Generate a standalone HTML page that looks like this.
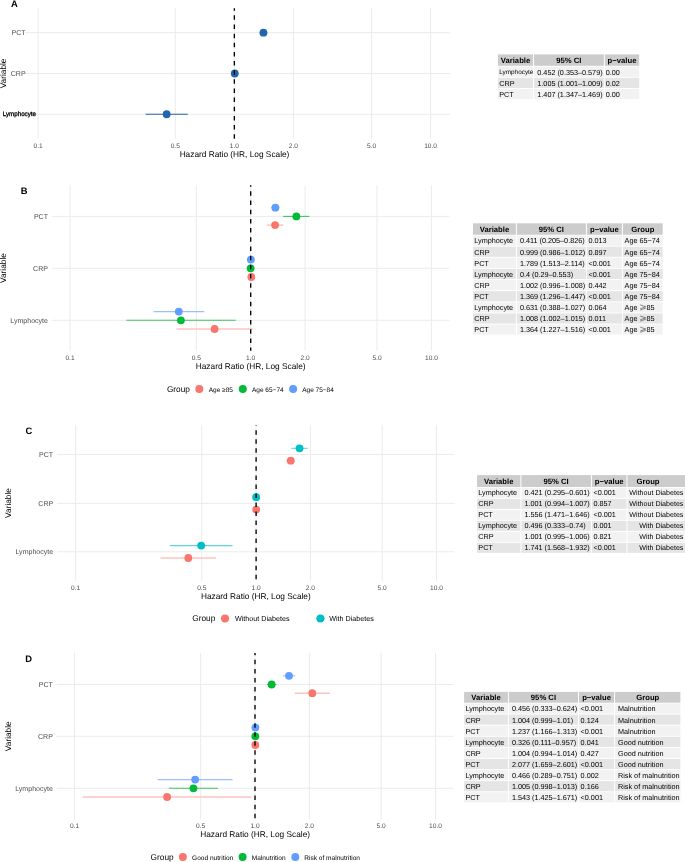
<!DOCTYPE html>
<html><head><meta charset="utf-8"><style>
html,body{margin:0;padding:0;background:#fff;width:685px;height:862px;overflow:hidden}
svg{display:block}
text{}
text{text-rendering:geometricPrecision;font-family:"Liberation Sans", sans-serif}
</style></head><body>
<svg width="685" height="862" viewBox="0 0 685 862">
<rect width="685" height="862" fill="#fff"/>
<g><line x1="38.10" y1="8.2" x2="38.10" y2="138.7" stroke="#EBEBEB" stroke-width="1"/>
<line x1="175.27" y1="8.2" x2="175.27" y2="138.7" stroke="#EBEBEB" stroke-width="1"/>
<line x1="234.35" y1="8.2" x2="234.35" y2="138.7" stroke="#EBEBEB" stroke-width="1"/>
<line x1="293.43" y1="8.2" x2="293.43" y2="138.7" stroke="#EBEBEB" stroke-width="1"/>
<line x1="371.52" y1="8.2" x2="371.52" y2="138.7" stroke="#EBEBEB" stroke-width="1"/>
<line x1="430.60" y1="8.2" x2="430.60" y2="138.7" stroke="#EBEBEB" stroke-width="1"/>
<line x1="25" y1="32.7" x2="450" y2="32.7" stroke="#EBEBEB" stroke-width="1"/>
<line x1="25" y1="73.5" x2="450" y2="73.5" stroke="#EBEBEB" stroke-width="1"/>
<line x1="25" y1="114.25" x2="450" y2="114.25" stroke="#EBEBEB" stroke-width="1"/>
<line x1="145.60" y1="114.25" x2="187.78" y2="114.25" stroke="#2166AC" stroke-width="1.1"/>
<line x1="234.44" y1="73.50" x2="235.11" y2="73.50" stroke="#2166AC" stroke-width="1.1"/>
<line x1="259.74" y1="32.70" x2="267.13" y2="32.70" stroke="#2166AC" stroke-width="1.1"/>
<circle cx="166.67" cy="114.25" r="3.9" fill="#2166AC"/>
<circle cx="234.78" cy="73.50" r="3.9" fill="#2166AC"/>
<circle cx="263.45" cy="32.70" r="3.9" fill="#2166AC"/>
<line x1="234.35" y1="8.2" x2="234.35" y2="138.7" stroke="#000" stroke-width="1.35" stroke-dasharray="4.5 4.64" stroke-dashoffset="1.99"/>
<line x1="70.00" y1="185.3" x2="70.00" y2="350.8" stroke="#EBEBEB" stroke-width="1"/>
<line x1="196.30" y1="185.3" x2="196.30" y2="350.8" stroke="#EBEBEB" stroke-width="1"/>
<line x1="250.70" y1="185.3" x2="250.70" y2="350.8" stroke="#EBEBEB" stroke-width="1"/>
<line x1="305.10" y1="185.3" x2="305.10" y2="350.8" stroke="#EBEBEB" stroke-width="1"/>
<line x1="377.00" y1="185.3" x2="377.00" y2="350.8" stroke="#EBEBEB" stroke-width="1"/>
<line x1="431.40" y1="185.3" x2="431.40" y2="350.8" stroke="#EBEBEB" stroke-width="1"/>
<line x1="52" y1="216.4" x2="449.3" y2="216.4" stroke="#EBEBEB" stroke-width="1"/>
<line x1="52" y1="268.3" x2="449.3" y2="268.3" stroke="#EBEBEB" stroke-width="1"/>
<line x1="52" y1="320.3" x2="449.3" y2="320.3" stroke="#EBEBEB" stroke-width="1"/>
<line x1="176.40" y1="329.00" x2="252.79" y2="329.00" stroke="#FCC3BF" stroke-width="1.5"/>
<line x1="250.86" y1="277.00" x2="251.87" y2="277.00" stroke="#FCC3BF" stroke-width="1.5"/>
<line x1="266.75" y1="225.10" x2="283.35" y2="225.10" stroke="#FCC3BF" stroke-width="1.5"/>
<circle cx="214.57" cy="329.00" r="3.9" fill="#F8766D"/>
<circle cx="251.33" cy="277.00" r="3.9" fill="#F8766D"/>
<circle cx="275.06" cy="225.10" r="3.9" fill="#F8766D"/>
<line x1="126.33" y1="320.30" x2="235.70" y2="320.30" stroke="#3DC462" stroke-width="1.1"/>
<line x1="249.59" y1="268.30" x2="251.64" y2="268.30" stroke="#3DC462" stroke-width="1.1"/>
<line x1="283.20" y1="216.40" x2="309.45" y2="216.40" stroke="#3DC462" stroke-width="1.1"/>
<circle cx="180.92" cy="320.30" r="3.9" fill="#00BA38"/>
<circle cx="250.62" cy="268.30" r="3.9" fill="#00BA38"/>
<circle cx="296.35" cy="216.40" r="3.9" fill="#00BA38"/>
<line x1="153.56" y1="311.60" x2="204.21" y2="311.60" stroke="#9DBFFF" stroke-width="1.1"/>
<line x1="250.39" y1="259.60" x2="251.33" y2="259.60" stroke="#9DBFFF" stroke-width="1.1"/>
<line x1="271.05" y1="207.70" x2="279.70" y2="207.70" stroke="#9DBFFF" stroke-width="1.1"/>
<circle cx="178.79" cy="311.60" r="3.9" fill="#619CFF"/>
<circle cx="250.86" cy="259.60" r="3.9" fill="#619CFF"/>
<circle cx="275.35" cy="207.70" r="3.9" fill="#619CFF"/>
<line x1="250.70" y1="185.3" x2="250.70" y2="350.8" stroke="#000" stroke-width="1.35" stroke-dasharray="4.5 4.69" stroke-dashoffset="3.14"/>
<line x1="75.70" y1="425.2" x2="75.70" y2="580.8" stroke="#EBEBEB" stroke-width="1"/>
<line x1="201.79" y1="425.2" x2="201.79" y2="580.8" stroke="#EBEBEB" stroke-width="1"/>
<line x1="256.10" y1="425.2" x2="256.10" y2="580.8" stroke="#EBEBEB" stroke-width="1"/>
<line x1="310.41" y1="425.2" x2="310.41" y2="580.8" stroke="#EBEBEB" stroke-width="1"/>
<line x1="382.19" y1="425.2" x2="382.19" y2="580.8" stroke="#EBEBEB" stroke-width="1"/>
<line x1="436.50" y1="425.2" x2="436.50" y2="580.8" stroke="#EBEBEB" stroke-width="1"/>
<line x1="57.2" y1="454.5" x2="454.5" y2="454.5" stroke="#EBEBEB" stroke-width="1"/>
<line x1="57.2" y1="503.4" x2="454.5" y2="503.4" stroke="#EBEBEB" stroke-width="1"/>
<line x1="57.2" y1="551.8" x2="454.5" y2="551.8" stroke="#EBEBEB" stroke-width="1"/>
<line x1="160.46" y1="558.00" x2="216.21" y2="558.00" stroke="#FCC3BF" stroke-width="1.5"/>
<line x1="255.63" y1="509.60" x2="256.65" y2="509.60" stroke="#FCC3BF" stroke-width="1.5"/>
<line x1="286.34" y1="460.70" x2="295.14" y2="460.70" stroke="#FCC3BF" stroke-width="1.5"/>
<circle cx="188.32" cy="558.00" r="3.9" fill="#F8766D"/>
<circle cx="256.18" cy="509.60" r="3.9" fill="#F8766D"/>
<circle cx="290.74" cy="460.70" r="3.9" fill="#F8766D"/>
<line x1="169.95" y1="545.60" x2="232.51" y2="545.60" stroke="#5DD5D8" stroke-width="1.1"/>
<line x1="255.71" y1="497.20" x2="256.57" y2="497.20" stroke="#5DD5D8" stroke-width="1.1"/>
<line x1="291.34" y1="448.30" x2="307.70" y2="448.30" stroke="#5DD5D8" stroke-width="1.1"/>
<circle cx="201.16" cy="545.60" r="3.9" fill="#00BFC4"/>
<circle cx="256.18" cy="497.20" r="3.9" fill="#00BFC4"/>
<circle cx="299.54" cy="448.30" r="3.9" fill="#00BFC4"/>
<line x1="256.10" y1="425.2" x2="256.10" y2="580.8" stroke="#000" stroke-width="1.35" stroke-dasharray="4.5 4.53" stroke-dashoffset="3.98"/>
<line x1="74.50" y1="652.9" x2="74.50" y2="819.6" stroke="#EBEBEB" stroke-width="1"/>
<line x1="200.66" y1="652.9" x2="200.66" y2="819.6" stroke="#EBEBEB" stroke-width="1"/>
<line x1="255.00" y1="652.9" x2="255.00" y2="819.6" stroke="#EBEBEB" stroke-width="1"/>
<line x1="309.34" y1="652.9" x2="309.34" y2="819.6" stroke="#EBEBEB" stroke-width="1"/>
<line x1="381.16" y1="652.9" x2="381.16" y2="819.6" stroke="#EBEBEB" stroke-width="1"/>
<line x1="435.50" y1="652.9" x2="435.50" y2="819.6" stroke="#EBEBEB" stroke-width="1"/>
<line x1="56.6" y1="684.5" x2="453.7" y2="684.5" stroke="#EBEBEB" stroke-width="1"/>
<line x1="56.6" y1="736.3" x2="453.7" y2="736.3" stroke="#EBEBEB" stroke-width="1"/>
<line x1="56.6" y1="788.3" x2="453.7" y2="788.3" stroke="#EBEBEB" stroke-width="1"/>
<line x1="82.68" y1="797.00" x2="251.55" y2="797.00" stroke="#FCC3BF" stroke-width="1.5"/>
<line x1="254.53" y1="745.00" x2="256.09" y2="745.00" stroke="#FCC3BF" stroke-width="1.5"/>
<line x1="294.68" y1="693.20" x2="329.93" y2="693.20" stroke="#FCC3BF" stroke-width="1.5"/>
<circle cx="167.14" cy="797.00" r="3.9" fill="#F8766D"/>
<circle cx="255.31" cy="745.00" r="3.9" fill="#F8766D"/>
<circle cx="312.30" cy="693.20" r="3.9" fill="#F8766D"/>
<line x1="168.80" y1="788.30" x2="218.03" y2="788.30" stroke="#3DC462" stroke-width="1.1"/>
<line x1="254.92" y1="736.30" x2="255.78" y2="736.30" stroke="#3DC462" stroke-width="1.1"/>
<line x1="267.04" y1="684.50" x2="276.35" y2="684.50" stroke="#3DC462" stroke-width="1.1"/>
<circle cx="193.44" cy="788.30" r="3.9" fill="#00BA38"/>
<circle cx="255.31" cy="736.30" r="3.9" fill="#00BA38"/>
<circle cx="271.67" cy="684.50" r="3.9" fill="#00BA38"/>
<line x1="157.69" y1="779.60" x2="232.55" y2="779.60" stroke="#9DBFFF" stroke-width="1.1"/>
<line x1="254.84" y1="727.60" x2="256.01" y2="727.60" stroke="#9DBFFF" stroke-width="1.1"/>
<line x1="282.76" y1="675.80" x2="295.25" y2="675.80" stroke="#9DBFFF" stroke-width="1.1"/>
<circle cx="195.14" cy="779.60" r="3.9" fill="#619CFF"/>
<circle cx="255.39" cy="727.60" r="3.9" fill="#619CFF"/>
<circle cx="289.00" cy="675.80" r="3.9" fill="#619CFF"/>
<line x1="255.00" y1="652.9" x2="255.00" y2="819.6" stroke="#000" stroke-width="1.35" stroke-dasharray="4.5 4.55" stroke-dashoffset="2.10"/>
<circle cx="199.3" cy="389.0" r="4.0" fill="#F8766D"/>
<circle cx="242.8" cy="389.0" r="4.0" fill="#00BA38"/>
<circle cx="293.1" cy="389.0" r="4.0" fill="#619CFF"/>
<line x1="220.40" y1="618.5" x2="229.60" y2="618.5" stroke="#FCC3BF" stroke-width="1.1"/>
<circle cx="225.0" cy="618.5" r="4.0" fill="#F8766D"/>
<line x1="315.80" y1="618.5" x2="325.00" y2="618.5" stroke="#5DD5D8" stroke-width="1.1"/>
<circle cx="320.4" cy="618.5" r="4.0" fill="#00BFC4"/>
<circle cx="182.9" cy="857.1" r="4.0" fill="#F8766D"/>
<circle cx="242.6" cy="857.1" r="4.0" fill="#00BA38"/>
<circle cx="295.3" cy="857.1" r="4.0" fill="#619CFF"/>
<rect x="498.00" y="54.40" width="35.00" height="11.40" fill="#CCCCCC"/>
<rect x="534.00" y="54.40" width="69.85" height="11.40" fill="#CCCCCC"/>
<rect x="604.85" y="54.40" width="34.35" height="11.40" fill="#CCCCCC"/>
<rect x="498.00" y="66.60" width="35.00" height="10.20" fill="#F2F2F2"/>
<rect x="534.00" y="66.60" width="69.85" height="10.20" fill="#F2F2F2"/>
<rect x="604.85" y="66.60" width="34.35" height="10.20" fill="#F2F2F2"/>
<rect x="498.00" y="77.75" width="35.00" height="10.20" fill="#E5E5E5"/>
<rect x="534.00" y="77.75" width="69.85" height="10.20" fill="#E5E5E5"/>
<rect x="604.85" y="77.75" width="34.35" height="10.20" fill="#E5E5E5"/>
<rect x="498.00" y="88.90" width="35.00" height="10.20" fill="#F2F2F2"/>
<rect x="534.00" y="88.90" width="69.85" height="10.20" fill="#F2F2F2"/>
<rect x="604.85" y="88.90" width="34.35" height="10.20" fill="#F2F2F2"/>
<rect x="473.00" y="223.30" width="42.90" height="11.45" fill="#CCCCCC"/>
<rect x="516.90" y="223.30" width="69.00" height="11.45" fill="#CCCCCC"/>
<rect x="586.90" y="223.30" width="35.00" height="11.45" fill="#CCCCCC"/>
<rect x="622.90" y="223.30" width="39.80" height="11.45" fill="#CCCCCC"/>
<rect x="473.00" y="235.55" width="42.90" height="10.17" fill="#F2F2F2"/>
<rect x="516.90" y="235.55" width="69.00" height="10.17" fill="#F2F2F2"/>
<rect x="586.90" y="235.55" width="35.00" height="10.17" fill="#F2F2F2"/>
<rect x="622.90" y="235.55" width="39.80" height="10.17" fill="#F2F2F2"/>
<rect x="473.00" y="246.67" width="42.90" height="10.17" fill="#E5E5E5"/>
<rect x="516.90" y="246.67" width="69.00" height="10.17" fill="#E5E5E5"/>
<rect x="586.90" y="246.67" width="35.00" height="10.17" fill="#E5E5E5"/>
<rect x="622.90" y="246.67" width="39.80" height="10.17" fill="#E5E5E5"/>
<rect x="473.00" y="257.79" width="42.90" height="10.17" fill="#F2F2F2"/>
<rect x="516.90" y="257.79" width="69.00" height="10.17" fill="#F2F2F2"/>
<rect x="586.90" y="257.79" width="35.00" height="10.17" fill="#F2F2F2"/>
<rect x="622.90" y="257.79" width="39.80" height="10.17" fill="#F2F2F2"/>
<rect x="473.00" y="268.91" width="42.90" height="10.17" fill="#E5E5E5"/>
<rect x="516.90" y="268.91" width="69.00" height="10.17" fill="#E5E5E5"/>
<rect x="586.90" y="268.91" width="35.00" height="10.17" fill="#E5E5E5"/>
<rect x="622.90" y="268.91" width="39.80" height="10.17" fill="#E5E5E5"/>
<rect x="473.00" y="280.03" width="42.90" height="10.17" fill="#F2F2F2"/>
<rect x="516.90" y="280.03" width="69.00" height="10.17" fill="#F2F2F2"/>
<rect x="586.90" y="280.03" width="35.00" height="10.17" fill="#F2F2F2"/>
<rect x="622.90" y="280.03" width="39.80" height="10.17" fill="#F2F2F2"/>
<rect x="473.00" y="291.15" width="42.90" height="10.17" fill="#E5E5E5"/>
<rect x="516.90" y="291.15" width="69.00" height="10.17" fill="#E5E5E5"/>
<rect x="586.90" y="291.15" width="35.00" height="10.17" fill="#E5E5E5"/>
<rect x="622.90" y="291.15" width="39.80" height="10.17" fill="#E5E5E5"/>
<rect x="473.00" y="302.27" width="42.90" height="10.17" fill="#F2F2F2"/>
<rect x="516.90" y="302.27" width="69.00" height="10.17" fill="#F2F2F2"/>
<rect x="586.90" y="302.27" width="35.00" height="10.17" fill="#F2F2F2"/>
<rect x="622.90" y="302.27" width="39.80" height="10.17" fill="#F2F2F2"/>
<path d="M640.20,304.91 L645.80,306.81 L640.20,308.71 M645.80,308.11 L640.20,310.01" fill="none" stroke="#444" stroke-width="0.62"/>
<rect x="473.00" y="313.39" width="42.90" height="10.17" fill="#E5E5E5"/>
<rect x="516.90" y="313.39" width="69.00" height="10.17" fill="#E5E5E5"/>
<rect x="586.90" y="313.39" width="35.00" height="10.17" fill="#E5E5E5"/>
<rect x="622.90" y="313.39" width="39.80" height="10.17" fill="#E5E5E5"/>
<path d="M640.20,316.03 L645.80,317.93 L640.20,319.83 M645.80,319.23 L640.20,321.13" fill="none" stroke="#444" stroke-width="0.62"/>
<rect x="473.00" y="324.51" width="42.90" height="10.17" fill="#F2F2F2"/>
<rect x="516.90" y="324.51" width="69.00" height="10.17" fill="#F2F2F2"/>
<rect x="586.90" y="324.51" width="35.00" height="10.17" fill="#F2F2F2"/>
<rect x="622.90" y="324.51" width="39.80" height="10.17" fill="#F2F2F2"/>
<path d="M640.20,327.15 L645.80,329.05 L640.20,330.95 M645.80,330.35 L640.20,332.25" fill="none" stroke="#444" stroke-width="0.62"/>
<rect x="477.00" y="475.10" width="43.40" height="11.90" fill="#CCCCCC"/>
<rect x="521.40" y="475.10" width="69.50" height="11.90" fill="#CCCCCC"/>
<rect x="591.90" y="475.10" width="34.60" height="11.90" fill="#CCCCCC"/>
<rect x="627.50" y="475.10" width="57.50" height="11.90" fill="#CCCCCC"/>
<rect x="477.00" y="487.80" width="43.40" height="10.05" fill="#F2F2F2"/>
<rect x="521.40" y="487.80" width="69.50" height="10.05" fill="#F2F2F2"/>
<rect x="591.90" y="487.80" width="34.60" height="10.05" fill="#F2F2F2"/>
<rect x="627.50" y="487.80" width="57.50" height="10.05" fill="#F2F2F2"/>
<rect x="477.00" y="498.80" width="43.40" height="10.05" fill="#E5E5E5"/>
<rect x="521.40" y="498.80" width="69.50" height="10.05" fill="#E5E5E5"/>
<rect x="591.90" y="498.80" width="34.60" height="10.05" fill="#E5E5E5"/>
<rect x="627.50" y="498.80" width="57.50" height="10.05" fill="#E5E5E5"/>
<rect x="477.00" y="509.80" width="43.40" height="10.05" fill="#F2F2F2"/>
<rect x="521.40" y="509.80" width="69.50" height="10.05" fill="#F2F2F2"/>
<rect x="591.90" y="509.80" width="34.60" height="10.05" fill="#F2F2F2"/>
<rect x="627.50" y="509.80" width="57.50" height="10.05" fill="#F2F2F2"/>
<rect x="477.00" y="520.80" width="43.40" height="10.05" fill="#E5E5E5"/>
<rect x="521.40" y="520.80" width="69.50" height="10.05" fill="#E5E5E5"/>
<rect x="591.90" y="520.80" width="34.60" height="10.05" fill="#E5E5E5"/>
<rect x="627.50" y="520.80" width="57.50" height="10.05" fill="#E5E5E5"/>
<rect x="477.00" y="531.80" width="43.40" height="10.05" fill="#F2F2F2"/>
<rect x="521.40" y="531.80" width="69.50" height="10.05" fill="#F2F2F2"/>
<rect x="591.90" y="531.80" width="34.60" height="10.05" fill="#F2F2F2"/>
<rect x="627.50" y="531.80" width="57.50" height="10.05" fill="#F2F2F2"/>
<rect x="477.00" y="542.80" width="43.40" height="10.05" fill="#E5E5E5"/>
<rect x="521.40" y="542.80" width="69.50" height="10.05" fill="#E5E5E5"/>
<rect x="591.90" y="542.80" width="34.60" height="10.05" fill="#E5E5E5"/>
<rect x="627.50" y="542.80" width="57.50" height="10.05" fill="#E5E5E5"/>
<rect x="464.10" y="691.90" width="43.80" height="10.80" fill="#CCCCCC"/>
<rect x="508.90" y="691.90" width="69.10" height="10.80" fill="#CCCCCC"/>
<rect x="579.00" y="691.90" width="35.10" height="10.80" fill="#CCCCCC"/>
<rect x="615.10" y="691.90" width="65.30" height="10.80" fill="#CCCCCC"/>
<rect x="464.10" y="703.50" width="43.80" height="10.14" fill="#F2F2F2"/>
<rect x="508.90" y="703.50" width="69.10" height="10.14" fill="#F2F2F2"/>
<rect x="579.00" y="703.50" width="35.10" height="10.14" fill="#F2F2F2"/>
<rect x="615.10" y="703.50" width="65.30" height="10.14" fill="#F2F2F2"/>
<rect x="464.10" y="714.59" width="43.80" height="10.14" fill="#E5E5E5"/>
<rect x="508.90" y="714.59" width="69.10" height="10.14" fill="#E5E5E5"/>
<rect x="579.00" y="714.59" width="35.10" height="10.14" fill="#E5E5E5"/>
<rect x="615.10" y="714.59" width="65.30" height="10.14" fill="#E5E5E5"/>
<rect x="464.10" y="725.68" width="43.80" height="10.14" fill="#F2F2F2"/>
<rect x="508.90" y="725.68" width="69.10" height="10.14" fill="#F2F2F2"/>
<rect x="579.00" y="725.68" width="35.10" height="10.14" fill="#F2F2F2"/>
<rect x="615.10" y="725.68" width="65.30" height="10.14" fill="#F2F2F2"/>
<rect x="464.10" y="736.77" width="43.80" height="10.14" fill="#E5E5E5"/>
<rect x="508.90" y="736.77" width="69.10" height="10.14" fill="#E5E5E5"/>
<rect x="579.00" y="736.77" width="35.10" height="10.14" fill="#E5E5E5"/>
<rect x="615.10" y="736.77" width="65.30" height="10.14" fill="#E5E5E5"/>
<rect x="464.10" y="747.86" width="43.80" height="10.14" fill="#F2F2F2"/>
<rect x="508.90" y="747.86" width="69.10" height="10.14" fill="#F2F2F2"/>
<rect x="579.00" y="747.86" width="35.10" height="10.14" fill="#F2F2F2"/>
<rect x="615.10" y="747.86" width="65.30" height="10.14" fill="#F2F2F2"/>
<rect x="464.10" y="758.95" width="43.80" height="10.14" fill="#E5E5E5"/>
<rect x="508.90" y="758.95" width="69.10" height="10.14" fill="#E5E5E5"/>
<rect x="579.00" y="758.95" width="35.10" height="10.14" fill="#E5E5E5"/>
<rect x="615.10" y="758.95" width="65.30" height="10.14" fill="#E5E5E5"/>
<rect x="464.10" y="770.04" width="43.80" height="10.14" fill="#F2F2F2"/>
<rect x="508.90" y="770.04" width="69.10" height="10.14" fill="#F2F2F2"/>
<rect x="579.00" y="770.04" width="35.10" height="10.14" fill="#F2F2F2"/>
<rect x="615.10" y="770.04" width="65.30" height="10.14" fill="#F2F2F2"/>
<rect x="464.10" y="781.13" width="43.80" height="10.14" fill="#E5E5E5"/>
<rect x="508.90" y="781.13" width="69.10" height="10.14" fill="#E5E5E5"/>
<rect x="579.00" y="781.13" width="35.10" height="10.14" fill="#E5E5E5"/>
<rect x="615.10" y="781.13" width="65.30" height="10.14" fill="#E5E5E5"/>
<rect x="464.10" y="792.22" width="43.80" height="10.14" fill="#F2F2F2"/>
<rect x="508.90" y="792.22" width="69.10" height="10.14" fill="#F2F2F2"/>
<rect x="579.00" y="792.22" width="35.10" height="10.14" fill="#F2F2F2"/>
<rect x="615.10" y="792.22" width="65.30" height="10.14" fill="#F2F2F2"/></g>
<g style="will-change:transform"><text x="25.60" y="35.25" font-size="7.05" fill="#4D4D4D" text-anchor="end" font-weight="normal" >PCT</text>
<text x="25.60" y="76.05" font-size="7.05" fill="#4D4D4D" text-anchor="end" font-weight="normal" >CRP</text>
<text x="11.00" y="6.65" font-size="9.4" fill="#000" text-anchor="start" font-weight="bold" >A</text>
<text x="0" y="0" font-size="8.3" fill="#000" text-anchor="middle" transform="translate(6.20,73.45) rotate(-90)">Variable</text>
<text x="38.10" y="147.80" font-size="6.6" fill="#4D4D4D" text-anchor="middle" font-weight="normal" >0.1</text>
<text x="175.27" y="147.80" font-size="6.6" fill="#4D4D4D" text-anchor="middle" font-weight="normal" >0.5</text>
<text x="234.35" y="147.80" font-size="6.6" fill="#4D4D4D" text-anchor="middle" font-weight="normal" >1.0</text>
<text x="293.43" y="147.80" font-size="6.6" fill="#4D4D4D" text-anchor="middle" font-weight="normal" >2.0</text>
<text x="371.52" y="147.80" font-size="6.6" fill="#4D4D4D" text-anchor="middle" font-weight="normal" >5.0</text>
<text x="430.60" y="147.80" font-size="6.6" fill="#4D4D4D" text-anchor="middle" font-weight="normal" >10.0</text>
<text x="234.50" y="156.80" font-size="8.3" fill="#000" text-anchor="middle" font-weight="normal" >Hazard Ratio (HR, Log Scale)</text>
<text x="2.80" y="116.10" font-size="6.5" fill="#000" text-anchor="start" font-weight="normal" stroke="#000" stroke-width="0.3" textLength="33.2" lengthAdjust="spacingAndGlyphs">Lymphocyte</text>
<text x="48.00" y="218.95" font-size="7.05" fill="#4D4D4D" text-anchor="end" font-weight="normal" >PCT</text>
<text x="48.00" y="270.85" font-size="7.05" fill="#4D4D4D" text-anchor="end" font-weight="normal" >CRP</text>
<text x="48.00" y="322.85" font-size="7.05" fill="#4D4D4D" text-anchor="end" font-weight="normal" >Lymphocyte</text>
<text x="20.70" y="194.00" font-size="9.4" fill="#000" text-anchor="start" font-weight="bold" >B</text>
<text x="0" y="0" font-size="8.3" fill="#000" text-anchor="middle" transform="translate(6.30,268.05) rotate(-90)">Variable</text>
<text x="70.00" y="359.90" font-size="6.6" fill="#4D4D4D" text-anchor="middle" font-weight="normal" >0.1</text>
<text x="196.30" y="359.90" font-size="6.6" fill="#4D4D4D" text-anchor="middle" font-weight="normal" >0.5</text>
<text x="250.70" y="359.90" font-size="6.6" fill="#4D4D4D" text-anchor="middle" font-weight="normal" >1.0</text>
<text x="305.10" y="359.90" font-size="6.6" fill="#4D4D4D" text-anchor="middle" font-weight="normal" >2.0</text>
<text x="377.00" y="359.90" font-size="6.6" fill="#4D4D4D" text-anchor="middle" font-weight="normal" >5.0</text>
<text x="431.40" y="359.90" font-size="6.6" fill="#4D4D4D" text-anchor="middle" font-weight="normal" >10.0</text>
<text x="250.65" y="369.30" font-size="8.3" fill="#000" text-anchor="middle" font-weight="normal" >Hazard Ratio (HR, Log Scale)</text>
<text x="53.20" y="457.05" font-size="7.05" fill="#4D4D4D" text-anchor="end" font-weight="normal" >PCT</text>
<text x="53.20" y="505.95" font-size="7.05" fill="#4D4D4D" text-anchor="end" font-weight="normal" >CRP</text>
<text x="53.20" y="554.35" font-size="7.05" fill="#4D4D4D" text-anchor="end" font-weight="normal" >Lymphocyte</text>
<text x="25.60" y="434.40" font-size="9.4" fill="#000" text-anchor="start" font-weight="bold" >C</text>
<text x="0" y="0" font-size="8.3" fill="#000" text-anchor="middle" transform="translate(11.00,503.00) rotate(-90)">Variable</text>
<text x="75.70" y="589.60" font-size="6.6" fill="#4D4D4D" text-anchor="middle" font-weight="normal" >0.1</text>
<text x="201.79" y="589.60" font-size="6.6" fill="#4D4D4D" text-anchor="middle" font-weight="normal" >0.5</text>
<text x="256.10" y="589.60" font-size="6.6" fill="#4D4D4D" text-anchor="middle" font-weight="normal" >1.0</text>
<text x="310.41" y="589.60" font-size="6.6" fill="#4D4D4D" text-anchor="middle" font-weight="normal" >2.0</text>
<text x="382.19" y="589.60" font-size="6.6" fill="#4D4D4D" text-anchor="middle" font-weight="normal" >5.0</text>
<text x="436.50" y="589.60" font-size="6.6" fill="#4D4D4D" text-anchor="middle" font-weight="normal" >10.0</text>
<text x="255.85" y="599.10" font-size="8.3" fill="#000" text-anchor="middle" font-weight="normal" >Hazard Ratio (HR, Log Scale)</text>
<text x="52.90" y="687.05" font-size="7.05" fill="#4D4D4D" text-anchor="end" font-weight="normal" >PCT</text>
<text x="52.90" y="738.85" font-size="7.05" fill="#4D4D4D" text-anchor="end" font-weight="normal" >CRP</text>
<text x="52.90" y="790.85" font-size="7.05" fill="#4D4D4D" text-anchor="end" font-weight="normal" >Lymphocyte</text>
<text x="25.20" y="662.10" font-size="9.4" fill="#000" text-anchor="start" font-weight="bold" >D</text>
<text x="0" y="0" font-size="8.3" fill="#000" text-anchor="middle" transform="translate(11.20,736.25) rotate(-90)">Variable</text>
<text x="74.50" y="827.60" font-size="6.6" fill="#4D4D4D" text-anchor="middle" font-weight="normal" >0.1</text>
<text x="200.66" y="827.60" font-size="6.6" fill="#4D4D4D" text-anchor="middle" font-weight="normal" >0.5</text>
<text x="255.00" y="827.60" font-size="6.6" fill="#4D4D4D" text-anchor="middle" font-weight="normal" >1.0</text>
<text x="309.34" y="827.60" font-size="6.6" fill="#4D4D4D" text-anchor="middle" font-weight="normal" >2.0</text>
<text x="381.16" y="827.60" font-size="6.6" fill="#4D4D4D" text-anchor="middle" font-weight="normal" >5.0</text>
<text x="435.50" y="827.60" font-size="6.6" fill="#4D4D4D" text-anchor="middle" font-weight="normal" >10.0</text>
<text x="255.15" y="837.30" font-size="8.3" fill="#000" text-anchor="middle" font-weight="normal" >Hazard Ratio (HR, Log Scale)</text>
<text x="166.90" y="391.90" font-size="8.3" fill="#000" text-anchor="start" font-weight="normal" >Group</text>
<text x="208.70" y="391.69" font-size="6.5" fill="#000" text-anchor="start" font-weight="normal" >Age ≥85</text>
<text x="252.00" y="391.69" font-size="6.5" fill="#000" text-anchor="start" font-weight="normal" >Age 65−74</text>
<text x="302.20" y="391.69" font-size="6.5" fill="#000" text-anchor="start" font-weight="normal" >Age 75−84</text>
<text x="192.20" y="621.40" font-size="8.3" fill="#000" text-anchor="start" font-weight="normal" >Group</text>
<text x="235.00" y="621.43" font-size="7.18" fill="#000" text-anchor="start" font-weight="normal" >Without Diabetes</text>
<text x="329.20" y="621.43" font-size="7.18" fill="#000" text-anchor="start" font-weight="normal" >With Diabetes</text>
<text x="150.60" y="860.00" font-size="8.3" fill="#000" text-anchor="start" font-weight="normal" >Group</text>
<text x="192.10" y="859.81" font-size="6.55" fill="#000" text-anchor="start" font-weight="normal" >Good nutrition</text>
<text x="251.80" y="859.81" font-size="6.55" fill="#000" text-anchor="start" font-weight="normal" >Malnutrition</text>
<text x="304.30" y="859.81" font-size="6.55" fill="#000" text-anchor="start" font-weight="normal" >Risk of malnutrition</text>
<text x="515.50" y="62.85" font-size="7.7" fill="#000" text-anchor="middle" font-weight="bold" >Variable</text>
<text x="568.92" y="62.85" font-size="7.7" fill="#000" text-anchor="middle" font-weight="bold" >95% CI</text>
<text x="622.03" y="62.85" font-size="7.7" fill="#000" text-anchor="middle" font-weight="bold" >p−value</text>
<text x="499.20" y="74.24" font-size="6.4" fill="#000" text-anchor="start" font-weight="normal" >Lymphocyte</text>
<text x="537.30" y="74.55" font-size="7.25" fill="#000" text-anchor="start" font-weight="normal" >0.452 (0.353–0.579)</text>
<text x="605.65" y="74.55" font-size="7.25" fill="#000" text-anchor="start" font-weight="normal" >0.00</text>
<text x="499.20" y="85.70" font-size="7.25" fill="#000" text-anchor="start" font-weight="normal" >CRP</text>
<text x="537.30" y="85.70" font-size="7.25" fill="#000" text-anchor="start" font-weight="normal" >1.005 (1.001–1.009)</text>
<text x="605.65" y="85.70" font-size="7.25" fill="#000" text-anchor="start" font-weight="normal" >0.02</text>
<text x="499.20" y="96.85" font-size="7.25" fill="#000" text-anchor="start" font-weight="normal" >PCT</text>
<text x="537.30" y="96.85" font-size="7.25" fill="#000" text-anchor="start" font-weight="normal" >1.407 (1.347–1.469)</text>
<text x="605.65" y="96.85" font-size="7.25" fill="#000" text-anchor="start" font-weight="normal" >0.00</text>
<text x="494.45" y="231.78" font-size="7.7" fill="#000" text-anchor="middle" font-weight="bold" >Variable</text>
<text x="551.40" y="231.78" font-size="7.7" fill="#000" text-anchor="middle" font-weight="bold" >95% CI</text>
<text x="604.40" y="231.78" font-size="7.7" fill="#000" text-anchor="middle" font-weight="bold" >p−value</text>
<text x="642.80" y="231.78" font-size="7.7" fill="#000" text-anchor="middle" font-weight="bold" >Group</text>
<text x="474.30" y="243.49" font-size="7.25" fill="#000" text-anchor="start" font-weight="normal" >Lymphocyte</text>
<text x="519.90" y="243.49" font-size="7.25" fill="#000" text-anchor="start" font-weight="normal" >0.411 (0.205–0.826)</text>
<text x="588.50" y="243.49" font-size="7.25" fill="#000" text-anchor="start" font-weight="normal" >0.013</text>
<text x="624.60" y="243.49" font-size="7.25" fill="#000" text-anchor="start" font-weight="normal" >Age 65−74</text>
<text x="474.30" y="254.61" font-size="7.25" fill="#000" text-anchor="start" font-weight="normal" >CRP</text>
<text x="519.90" y="254.61" font-size="7.25" fill="#000" text-anchor="start" font-weight="normal" >0.999 (0.986–1.012)</text>
<text x="588.50" y="254.61" font-size="7.25" fill="#000" text-anchor="start" font-weight="normal" >0.897</text>
<text x="624.60" y="254.61" font-size="7.25" fill="#000" text-anchor="start" font-weight="normal" >Age 65−74</text>
<text x="474.30" y="265.73" font-size="7.25" fill="#000" text-anchor="start" font-weight="normal" >PCT</text>
<text x="519.90" y="265.73" font-size="7.25" fill="#000" text-anchor="start" font-weight="normal" >1.789 (1.513–2.114)</text>
<text x="588.50" y="265.73" font-size="7.25" fill="#000" text-anchor="start" font-weight="normal" >&lt;0.001</text>
<text x="624.60" y="265.73" font-size="7.25" fill="#000" text-anchor="start" font-weight="normal" >Age 65−74</text>
<text x="474.30" y="276.85" font-size="7.25" fill="#000" text-anchor="start" font-weight="normal" >Lymphocyte</text>
<text x="519.90" y="276.85" font-size="7.25" fill="#000" text-anchor="start" font-weight="normal" >0.4 (0.29–0.553)</text>
<text x="588.50" y="276.85" font-size="7.25" fill="#000" text-anchor="start" font-weight="normal" >&lt;0.001</text>
<text x="624.60" y="276.85" font-size="7.25" fill="#000" text-anchor="start" font-weight="normal" >Age 75−84</text>
<text x="474.30" y="287.97" font-size="7.25" fill="#000" text-anchor="start" font-weight="normal" >CRP</text>
<text x="519.90" y="287.97" font-size="7.25" fill="#000" text-anchor="start" font-weight="normal" >1.002 (0.996–1.008)</text>
<text x="588.50" y="287.97" font-size="7.25" fill="#000" text-anchor="start" font-weight="normal" >0.442</text>
<text x="624.60" y="287.97" font-size="7.25" fill="#000" text-anchor="start" font-weight="normal" >Age 75−84</text>
<text x="474.30" y="299.09" font-size="7.25" fill="#000" text-anchor="start" font-weight="normal" >PCT</text>
<text x="519.90" y="299.09" font-size="7.25" fill="#000" text-anchor="start" font-weight="normal" >1.369 (1.296–1.447)</text>
<text x="588.50" y="299.09" font-size="7.25" fill="#000" text-anchor="start" font-weight="normal" >&lt;0.001</text>
<text x="624.60" y="299.09" font-size="7.25" fill="#000" text-anchor="start" font-weight="normal" >Age 75−84</text>
<text x="474.30" y="310.21" font-size="7.25" fill="#000" text-anchor="start" font-weight="normal" >Lymphocyte</text>
<text x="519.90" y="310.21" font-size="7.25" fill="#000" text-anchor="start" font-weight="normal" >0.631 (0.388–1.027)</text>
<text x="588.50" y="310.21" font-size="7.25" fill="#000" text-anchor="start" font-weight="normal" >0.064</text>
<text x="624.60" y="310.21" font-size="7.25" fill="#000" text-anchor="start" font-weight="normal" >Age </text>
<text x="646.40" y="310.21" font-size="7.25" fill="#000" text-anchor="start" font-weight="normal" >85</text>
<text x="474.30" y="321.33" font-size="7.25" fill="#000" text-anchor="start" font-weight="normal" >CRP</text>
<text x="519.90" y="321.33" font-size="7.25" fill="#000" text-anchor="start" font-weight="normal" >1.008 (1.002–1.015)</text>
<text x="588.50" y="321.33" font-size="7.25" fill="#000" text-anchor="start" font-weight="normal" >0.011</text>
<text x="624.60" y="321.33" font-size="7.25" fill="#000" text-anchor="start" font-weight="normal" >Age </text>
<text x="646.40" y="321.33" font-size="7.25" fill="#000" text-anchor="start" font-weight="normal" >85</text>
<text x="474.30" y="332.45" font-size="7.25" fill="#000" text-anchor="start" font-weight="normal" >PCT</text>
<text x="519.90" y="332.45" font-size="7.25" fill="#000" text-anchor="start" font-weight="normal" >1.364 (1.227–1.516)</text>
<text x="588.50" y="332.45" font-size="7.25" fill="#000" text-anchor="start" font-weight="normal" >&lt;0.001</text>
<text x="624.60" y="332.45" font-size="7.25" fill="#000" text-anchor="start" font-weight="normal" >Age </text>
<text x="646.40" y="332.45" font-size="7.25" fill="#000" text-anchor="start" font-weight="normal" >85</text>
<text x="498.70" y="483.80" font-size="7.7" fill="#000" text-anchor="middle" font-weight="bold" >Variable</text>
<text x="556.15" y="483.80" font-size="7.7" fill="#000" text-anchor="middle" font-weight="bold" >95% CI</text>
<text x="609.20" y="483.80" font-size="7.7" fill="#000" text-anchor="middle" font-weight="bold" >p−value</text>
<text x="648.00" y="483.80" font-size="7.7" fill="#000" text-anchor="middle" font-weight="bold" >Group</text>
<text x="478.30" y="495.18" font-size="7.25" fill="#000" text-anchor="start" font-weight="normal" >Lymphocyte</text>
<text x="524.40" y="495.18" font-size="7.25" fill="#000" text-anchor="start" font-weight="normal" >0.421 (0.295–0.601)</text>
<text x="593.50" y="495.18" font-size="7.25" fill="#000" text-anchor="start" font-weight="normal" >&lt;0.001</text>
<text x="683.40" y="495.18" font-size="7.1" fill="#000" text-anchor="end" font-weight="normal" >Without Diabetes</text>
<text x="478.30" y="506.18" font-size="7.25" fill="#000" text-anchor="start" font-weight="normal" >CRP</text>
<text x="524.40" y="506.18" font-size="7.25" fill="#000" text-anchor="start" font-weight="normal" >1.001 (0.994–1.007)</text>
<text x="593.50" y="506.18" font-size="7.25" fill="#000" text-anchor="start" font-weight="normal" >0.857</text>
<text x="683.40" y="506.18" font-size="7.1" fill="#000" text-anchor="end" font-weight="normal" >Without Diabetes</text>
<text x="478.30" y="517.18" font-size="7.25" fill="#000" text-anchor="start" font-weight="normal" >PCT</text>
<text x="524.40" y="517.18" font-size="7.25" fill="#000" text-anchor="start" font-weight="normal" >1.556 (1.471–1.646)</text>
<text x="593.50" y="517.18" font-size="7.25" fill="#000" text-anchor="start" font-weight="normal" >&lt;0.001</text>
<text x="683.40" y="517.18" font-size="7.1" fill="#000" text-anchor="end" font-weight="normal" >Without Diabetes</text>
<text x="478.30" y="528.17" font-size="7.25" fill="#000" text-anchor="start" font-weight="normal" >Lymphocyte</text>
<text x="524.40" y="528.17" font-size="7.25" fill="#000" text-anchor="start" font-weight="normal" >0.496 (0.333–0.74)</text>
<text x="593.50" y="528.17" font-size="7.25" fill="#000" text-anchor="start" font-weight="normal" >0.001</text>
<text x="683.40" y="528.17" font-size="7.1" fill="#000" text-anchor="end" font-weight="normal" >With Diabetes</text>
<text x="478.30" y="539.17" font-size="7.25" fill="#000" text-anchor="start" font-weight="normal" >CRP</text>
<text x="524.40" y="539.17" font-size="7.25" fill="#000" text-anchor="start" font-weight="normal" >1.001 (0.995–1.006)</text>
<text x="593.50" y="539.17" font-size="7.25" fill="#000" text-anchor="start" font-weight="normal" >0.821</text>
<text x="683.40" y="539.17" font-size="7.1" fill="#000" text-anchor="end" font-weight="normal" >With Diabetes</text>
<text x="478.30" y="550.17" font-size="7.25" fill="#000" text-anchor="start" font-weight="normal" >PCT</text>
<text x="524.40" y="550.17" font-size="7.25" fill="#000" text-anchor="start" font-weight="normal" >1.741 (1.568–1.932)</text>
<text x="593.50" y="550.17" font-size="7.25" fill="#000" text-anchor="start" font-weight="normal" >&lt;0.001</text>
<text x="683.40" y="550.17" font-size="7.1" fill="#000" text-anchor="end" font-weight="normal" >With Diabetes</text>
<text x="486.00" y="700.05" font-size="7.7" fill="#000" text-anchor="middle" font-weight="bold" >Variable</text>
<text x="543.45" y="700.05" font-size="7.7" fill="#000" text-anchor="middle" font-weight="bold" >95% CI</text>
<text x="596.55" y="700.05" font-size="7.7" fill="#000" text-anchor="middle" font-weight="bold" >p−value</text>
<text x="647.75" y="700.05" font-size="7.7" fill="#000" text-anchor="middle" font-weight="bold" >Group</text>
<text x="465.40" y="711.42" font-size="7.25" fill="#000" text-anchor="start" font-weight="normal" >Lymphocyte</text>
<text x="511.90" y="711.42" font-size="7.25" fill="#000" text-anchor="start" font-weight="normal" >0.456 (0.333–0.624)</text>
<text x="580.60" y="711.42" font-size="7.25" fill="#000" text-anchor="start" font-weight="normal" >&lt;0.001</text>
<text x="618.00" y="711.42" font-size="7.25" fill="#000" text-anchor="start" font-weight="normal" >Malnutrition</text>
<text x="465.40" y="722.51" font-size="7.25" fill="#000" text-anchor="start" font-weight="normal" >CRP</text>
<text x="511.90" y="722.51" font-size="7.25" fill="#000" text-anchor="start" font-weight="normal" >1.004 (0.999–1.01)</text>
<text x="580.60" y="722.51" font-size="7.25" fill="#000" text-anchor="start" font-weight="normal" >0.124</text>
<text x="618.00" y="722.51" font-size="7.25" fill="#000" text-anchor="start" font-weight="normal" >Malnutrition</text>
<text x="465.40" y="733.60" font-size="7.25" fill="#000" text-anchor="start" font-weight="normal" >PCT</text>
<text x="511.90" y="733.60" font-size="7.25" fill="#000" text-anchor="start" font-weight="normal" >1.237 (1.166–1.313)</text>
<text x="580.60" y="733.60" font-size="7.25" fill="#000" text-anchor="start" font-weight="normal" >&lt;0.001</text>
<text x="618.00" y="733.60" font-size="7.25" fill="#000" text-anchor="start" font-weight="normal" >Malnutrition</text>
<text x="465.40" y="744.69" font-size="7.25" fill="#000" text-anchor="start" font-weight="normal" >Lymphocyte</text>
<text x="511.90" y="744.69" font-size="7.25" fill="#000" text-anchor="start" font-weight="normal" >0.326 (0.111–0.957)</text>
<text x="580.60" y="744.69" font-size="7.25" fill="#000" text-anchor="start" font-weight="normal" >0.041</text>
<text x="618.00" y="744.69" font-size="7.25" fill="#000" text-anchor="start" font-weight="normal" >Good nutrition</text>
<text x="465.40" y="755.78" font-size="7.25" fill="#000" text-anchor="start" font-weight="normal" >CRP</text>
<text x="511.90" y="755.78" font-size="7.25" fill="#000" text-anchor="start" font-weight="normal" >1.004 (0.994–1.014)</text>
<text x="580.60" y="755.78" font-size="7.25" fill="#000" text-anchor="start" font-weight="normal" >0.427</text>
<text x="618.00" y="755.78" font-size="7.25" fill="#000" text-anchor="start" font-weight="normal" >Good nutrition</text>
<text x="465.40" y="766.87" font-size="7.25" fill="#000" text-anchor="start" font-weight="normal" >PCT</text>
<text x="511.90" y="766.87" font-size="7.25" fill="#000" text-anchor="start" font-weight="normal" >2.077 (1.659–2.601)</text>
<text x="580.60" y="766.87" font-size="7.25" fill="#000" text-anchor="start" font-weight="normal" >&lt;0.001</text>
<text x="618.00" y="766.87" font-size="7.25" fill="#000" text-anchor="start" font-weight="normal" >Good nutrition</text>
<text x="465.40" y="777.96" font-size="7.25" fill="#000" text-anchor="start" font-weight="normal" >Lymphocyte</text>
<text x="511.90" y="777.96" font-size="7.25" fill="#000" text-anchor="start" font-weight="normal" >0.466 (0.289–0.751)</text>
<text x="580.60" y="777.96" font-size="7.25" fill="#000" text-anchor="start" font-weight="normal" >0.002</text>
<text x="618.00" y="777.96" font-size="7.25" fill="#000" text-anchor="start" font-weight="normal" >Risk of malnutrition</text>
<text x="465.40" y="789.05" font-size="7.25" fill="#000" text-anchor="start" font-weight="normal" >CRP</text>
<text x="511.90" y="789.05" font-size="7.25" fill="#000" text-anchor="start" font-weight="normal" >1.005 (0.998–1.013)</text>
<text x="580.60" y="789.05" font-size="7.25" fill="#000" text-anchor="start" font-weight="normal" >0.166</text>
<text x="618.00" y="789.05" font-size="7.25" fill="#000" text-anchor="start" font-weight="normal" >Risk of malnutrition</text>
<text x="465.40" y="800.14" font-size="7.25" fill="#000" text-anchor="start" font-weight="normal" >PCT</text>
<text x="511.90" y="800.14" font-size="7.25" fill="#000" text-anchor="start" font-weight="normal" >1.543 (1.425–1.671)</text>
<text x="580.60" y="800.14" font-size="7.25" fill="#000" text-anchor="start" font-weight="normal" >&lt;0.001</text>
<text x="618.00" y="800.14" font-size="7.25" fill="#000" text-anchor="start" font-weight="normal" >Risk of malnutrition</text></g>
</svg>
</body></html>
